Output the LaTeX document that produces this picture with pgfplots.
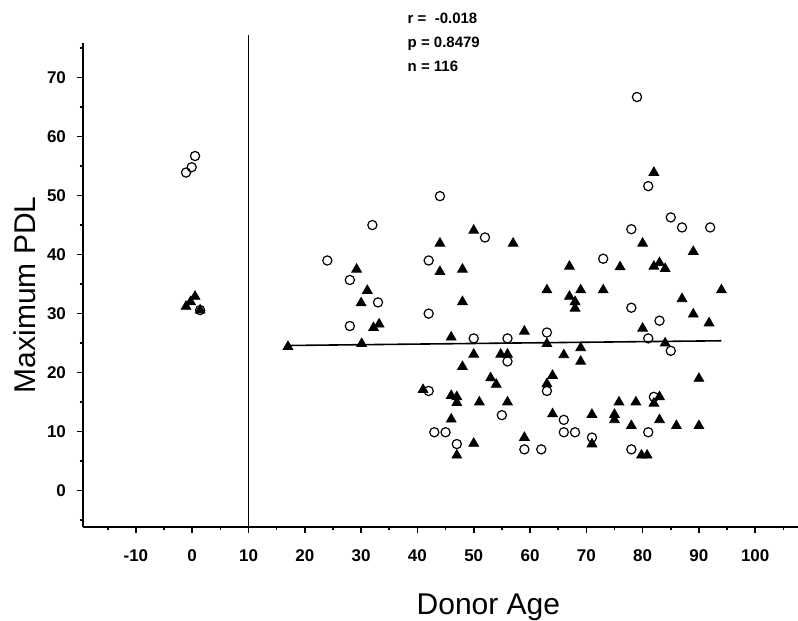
\documentclass[border=0pt]{standalone}
\usepackage{pgfplots}
\pgfplotsset{compat=1.18}
\usepackage{fontspec}
\setmainfont{Liberation Sans}
\begin{document}
\begin{tikzpicture}
\begin{axis}[
  name=ax, scale only axis, width=357.5pt, height=242pt,
  xmin=-19.4, xmax=107.6, ymin=-6.1, ymax=75.9,
  axis x line*=bottom, axis y line*=left,
  axis line style={line width=1pt, -},
  xtick={-10,0,...,100}, ytick={0,10,...,70},
  minor xtick={-15,-5,...,105}, minor ytick={-5,5,...,75},
  tick align=outside, tick style={black, line width=0.8pt},
  major tick length=3pt, minor tick length=1.5pt,
  /pgf/number format/assume math mode=true,
  ticklabel style={font=\fontsize{8.5}{10}\selectfont\bfseries},
  xticklabel style={yshift=-5pt},
  yticklabel style={xshift=-2pt},
  clip=false,
  xlabel={Donor Age}, ylabel={Maximum PDL},
  label style={font=\fontsize{15}{18}\selectfont},
  xlabel style={at={(axis description cs:0.567,-0.1824)}, anchor=base},
  ylabel style={at={(axis description cs:-0.0671,0.479)}, anchor=base, rotate=0},
]
\addplot[black, line width=0.8pt] coordinates {(10,-6.1) (10,77.2)};
\addplot[black, line width=0.8pt] coordinates {(17,24.6) (94,25.4)};
\addplot[only marks, mark=o, mark size=2.3pt, mark options={black, line width=0.6pt}] coordinates {
(-1.1,53.9) (-0.1,54.8) (0.5,56.7) (1.4,30.6)
(32,45) (24,39) (28,35.7) (33,31.9) (28,27.9)
(44,49.9) (52,42.9) (42,39) (42,30)
(78,44.3) (73,39.3) (78,31) (63,26.8) (81,25.8)
(81,51.6) (85,46.3) (87,44.6) (92,44.6) (83,28.8) (79,66.7)
(50,25.8) (56,25.8) (56,21.9) (42,16.9) (55,12.8) (43,9.9) (45,9.9) (47,7.9) (59,7)
(63,16.9) (66,12) (66,9.9) (68,9.9) (71,9) (62,7) (78,7) (81,9.9)
(85,23.7) (82,15.9)
};
\addplot[only marks, mark=triangle*, mark size=2.8pt, mark options={black, fill=black}] coordinates {
(-1.1,31.2) (-0.3,32.0) (0.5,32.9) (1.4,30.6)
(29.2,37.5) (31.1,33.9) (30,31.8) (32.2,27.6) (33.2,28.2) (30.1,24.9) (17,24.4)
(50,44.1) (57,41.9) (44,41.9) (44,37.1) (48,37.5) (48,32)
(80,41.9) (76,37.9) (67,38) (63,34) (69,34) (73,34) (67,32.9) (68,32) (68,30.9) (59,27) (63,24.9) (69,24.2) (80,27.5)
(82,53.9) (89,40.5) (82,38) (83,38.6) (84,37.6) (94,34) (87,32.5) (89,29.9) (91.8,28.4)
(46,26) (50,23.1) (54.8,23.1) (56,23.1) (48,21) (53,19.1) (54,18) (41,17.1) (46,16.1) (47,15.9) (47,14.9) (51,15) (56,15) (46,12.1) (50,8) (47,6) (59,9)
(66,23) (69,21.9) (64,19.5) (63,18.1) (75.8,15) (78.8,15) (64,13) (71,12.9) (75,12.9) (75,12) (78,11) (71,7.9) (79.8,6) (80.8,6)
(84,25) (90,19) (83,15.9) (82,14.8) (83,12) (86,11) (90,11)
};
\node[anchor=base west, inner sep=0pt, font=\fontsize{7.5}{9}\selectfont\bfseries] at (axis cs:38.2,79.1) {r = \ -0.018};
\node[anchor=base west, inner sep=0pt, font=\fontsize{7.5}{9}\selectfont\bfseries] at (axis cs:38.2,75.15) {p = 0.8479};
\node[anchor=base west, inner sep=0pt, font=\fontsize{7.5}{9}\selectfont\bfseries] at (axis cs:38.2,71.0) {n = 116};
\end{axis}
\pgfresetboundingbox
\path (ax.south west) ++(-41.5pt,-47.15pt) rectangle ++(399pt,310.5pt);
\end{tikzpicture}
\end{document}
